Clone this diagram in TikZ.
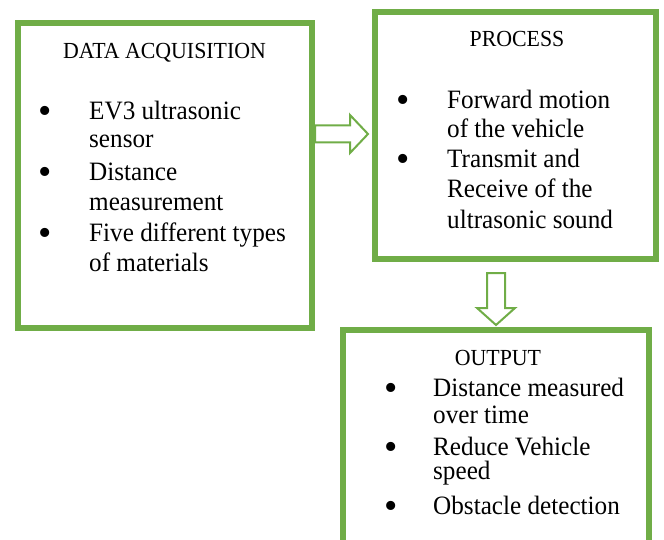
\documentclass[tikz,border=0pt]{standalone}
\usepackage{fontspec}
\setmainfont{Liberation Serif}
\newfontfamily\bodyfont[FakeStretch=0.95]{Liberation Serif}
\definecolor{evgreen}{HTML}{70AD47}
\tikzset{
  box/.style={draw=evgreen, line width=6.5pt, fill=white, rectangle, inner sep=0pt},
  blockarrow/.style={draw=evgreen, line width=2pt, fill=white, line join=miter},
  txt/.style={anchor=base west, inner sep=0pt, font=\bodyfont\fontsize{26.5}{30}\selectfont},
  ttl/.style={anchor=base, inner sep=0pt, font=\bodyfont\fontsize{23}{30}\selectfont},
  bul/.style={anchor=base, inner sep=0pt, yshift=-4pt, font=\fontsize{38}{30}\selectfont}
}
\begin{document}
\begin{tikzpicture}[x=1pt,y=-1pt]
\useasboundingbox (0,0) rectangle (664,540);
\clip (0,0) rectangle (664,540);
% boxes
\node[box, minimum width=294pt, minimum height=305pt] (acq) at (165,175.5) {};
\node[box, minimum width=281pt, minimum height=247pt] (proc) at (515.5,135.5) {};
\node[box, minimum width=306pt, minimum height=250pt] (out) at (496,455) {};
% block arrows
\coordinate (a1) at (315,134);
\draw[blockarrow] (a1) ++(0,-8.5) -- ++(35,0) -- ++(0,-10.5) -- ++(18,19) -- ++(-18,19)
  -- ++(0,-10.5) -- ++(-35,0) -- cycle;
\coordinate (a2) at (496,273);
\draw[blockarrow] (a2) ++(-9,0) -- ++(0,35) -- ++(-10,0) -- ++(19,17) -- ++(19,-17)
  -- ++(-10,0) -- ++(0,-35) -- cycle;
% data acquisition
\node[ttl] (t1) at (164.5,59) {DATA ACQUISITION};
\node[bul] (b11) at (45,120) {\textbullet};
\node[txt] (l11) at (89,120) {EV3 ultrasonic};
\node[txt] (l12) at (89,148) {sensor};
\node[bul] (b12) at (45,181) {\textbullet};
\node[txt] (l13) at (89,181) {Distance};
\node[txt] (l14) at (89,211) {measurement};
\node[bul] (b13) at (45,242) {\textbullet};
\node[txt] (l15) at (89,242) {Five different types};
\node[txt] (l16) at (89,272) {of materials};
% process
\node[ttl] (t2) at (517,47) {PROCESS};
\node[bul] (b21) at (403,109) {\textbullet};
\node[txt] (l21) at (447,109) {Forward motion};
\node[txt] (l22) at (447,138) {of the vehicle};
\node[bul] (b22) at (403,168) {\textbullet};
\node[txt] (l23) at (447,168) {Transmit and};
\node[txt] (l24) at (447,198) {Receive of the};
\node[txt] (l25) at (447,229) {ultrasonic sound};
% output
\node[ttl] (t3) at (498,365) {OUTPUT};
\node[bul] (b31) at (391,396) {\textbullet};
\node[txt] (l31) at (433,396) {Distance measured};
\node[txt] (l32) at (433,423) {over time};
\node[bul] (b32) at (391,455) {\textbullet};
\node[txt] (l33) at (433,455) {Reduce Vehicle};
\node[txt] (l34) at (433,479) {speed};
\node[bul] (b33) at (391,514) {\textbullet};
\node[txt] (l35) at (433,514) {Obstacle detection};
\end{tikzpicture}
\end{document}
